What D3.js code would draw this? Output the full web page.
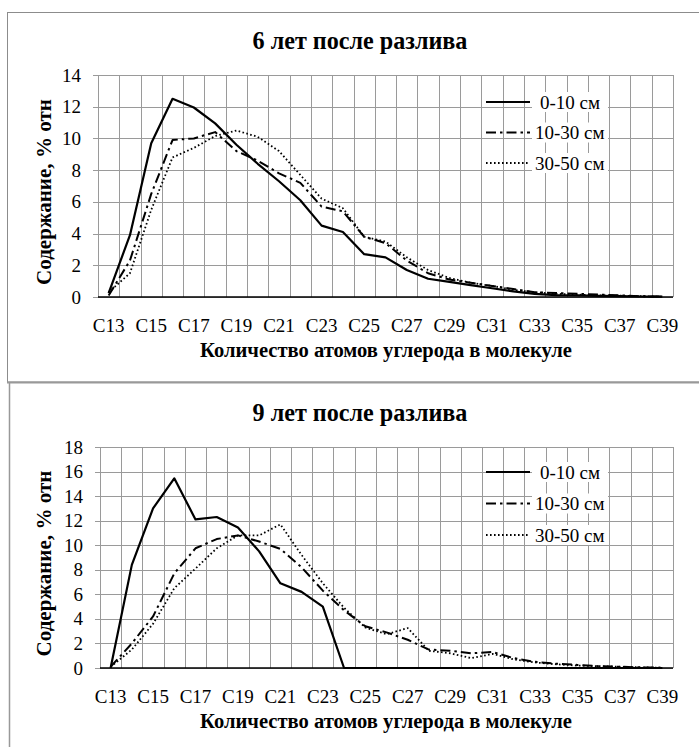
<!DOCTYPE html>
<html>
<head>
<meta charset="utf-8">
<script src="https://cdn.jsdelivr.net/npm/d3@7"></script>
<style>
  body { margin: 0; background: #fff; }
</style>
</head>
<body>
<svg id="chart" width="699" height="747"></svg>
<script>
// категории C13..C39
const categories = ["C13","C14","C15","C16","C17","C18","C19","C20","C21","C22","C23","C24","C25","C26","C27","C28","C29","C30","C31","C32","C33","C34","C35","C36","C37","C38","C39"];
const seriesNames = ["0-10 см", "10-30 см", "30-50 см"];

// 6 лет после разлива
const y6_0_10  = [0.25, 3.9, 9.7, 12.5, 11.95, 10.95, 9.6, 8.4, 7.3, 6.1, 4.5, 4.1, 2.7, 2.5, 1.7, 1.15, 0.95, 0.75, 0.55, 0.35, 0.2, 0.12, 0.1, 0.07, 0.05, 0.03, 0.02];
const y6_10_30 = [0.1, 2.3, 6.5, 9.9, 10.0, 10.4, 9.2, 8.6, 7.8, 7.2, 5.7, 5.4, 3.8, 3.4, 2.3, 1.5, 1.1, 0.9, 0.7, 0.5, 0.3, 0.25, 0.2, 0.15, 0.1, 0.05, 0.02];
const y6_30_50 = [0.3, 1.5, 5.5, 8.8, 9.4, 10.15, 10.5, 10.1, 9.2, 7.7, 6.2, 5.6, 3.8, 3.5, 2.5, 1.7, 1.2, 0.9, 0.7, 0.45, 0.3, 0.2, 0.15, 0.1, 0.08, 0.05, 0.02];

// 9 лет после разлива
const y9_0_10  = [0, 8.4, 13.0, 15.45, 12.1, 12.3, 11.45, 9.5, 6.9, 6.2, 5.0, 0, 0, 0, 0, 0, 0, 0, 0, 0, 0, 0, 0, 0, 0, 0, 0];
const y9_10_30 = [0.1, 2.0, 4.2, 7.7, 9.75, 10.5, 10.8, 10.3, 9.7, 8.2, 6.3, 4.7, 3.4, 2.9, 2.3, 1.5, 1.4, 1.2, 1.3, 0.8, 0.5, 0.35, 0.25, 0.15, 0.1, 0.05, 0.02];
const y9_30_50 = [0.1, 1.5, 3.6, 6.5, 8.1, 9.75, 10.8, 10.8, 11.7, 9.2, 6.9, 4.9, 3.3, 2.75, 3.25, 1.4, 1.2, 0.8, 1.15, 0.7, 0.45, 0.3, 0.2, 0.15, 0.1, 0.05, 0.02];

const yTicks6 = [0, 2, 4, 6, 8, 10, 12, 14];
const yTicks9 = [0, 2, 4, 6, 8, 10, 12, 14, 16, 18];

const titles = ["6 лет после разлива", "9 лет после разлива"];
const yTitle = "Содержание, % отн";
const xTitle = "Количество атомов углерода в молекуле";

const FONT = "Liberation Serif";

const svg = d3.select("#chart");

// рамки как в Excel
svg.append("rect").attr("x", 7.5).attr("y", 12.5).attr("width", 720).attr("height", 369.5)
  .attr("fill", "none").attr("stroke", "#8c8c8c").attr("stroke-width", 1);
svg.append("line").attr("x1", 7).attr("x2", 699).attr("y1", 382.5).attr("y2", 382.5)
  .attr("stroke", "#999").attr("stroke-width", 2);
svg.append("line").attr("x1", 9.5).attr("x2", 9.5).attr("y1", 383).attr("y2", 747)
  .attr("stroke", "#999").attr("stroke-width", 1.5);

const styles = [
  { dash: null, width: 2.2 },
  { dash: "10,4,2.5,4", width: 2 },
  { dash: "1.6,2.4", width: 1.8 }
];

// подгоняем размер шрифта под нужную ширину
function ajustar(sel, size, target) {
  sel.attr("font-size", size);
  const w = sel.node().getComputedTextLength();
  if (w > 0) sel.attr("font-size", (size * target / w).toFixed(2));
}

function graficar(cfg) {
  const g = svg.append("g");
  const x = d3.scaleBand().domain(categories).range([cfg.left, cfg.right]);
  const y = d3.scaleLinear().domain([0, d3.max(cfg.ticks)]).range([cfg.bottom, cfg.top]);
  const bw = x.bandwidth();

  // сетка
  g.selectAll(".hg").data(cfg.ticks).enter().append("line")
    .attr("x1", cfg.left - 5).attr("x2", cfg.right)
    .attr("y1", d => Math.round(y(d)) + 0.5).attr("y2", d => Math.round(y(d)) + 0.5)
    .attr("stroke", "#9a9a9a").attr("stroke-width", 1);
  const bounds = categories.map(c => x(c)).concat([cfg.right]);
  g.selectAll(".vg").data(bounds).enter().append("line")
    .attr("x1", d => Math.round(d) + 0.5).attr("x2", d => Math.round(d) + 0.5)
    .attr("y1", cfg.top).attr("y2", cfg.bottom)
    .attr("stroke", "#9a9a9a").attr("stroke-width", 1);

  // ось X
  g.append("line").attr("x1", cfg.left).attr("x2", cfg.right)
    .attr("y1", y(0)).attr("y2", y(0)).attr("stroke", "#000").attr("stroke-width", 1.5);

  // подписи Y
  g.selectAll(".yl").data(cfg.ticks).enter().append("text")
    .attr("font-family", FONT).attr("font-size", 19)
    .attr("x", cfg.left - 17).attr("y", d => y(d) + 6.5)
    .attr("text-anchor", "end").text(d => d);

  // подписи X
  g.selectAll(".xl").data(categories.filter((c, i) => i % 2 === 0)).enter().append("text")
    .attr("font-family", FONT).attr("font-size", 19)
    .attr("x", d => x(d) + bw / 2).attr("y", cfg.bottom + 35)
    .attr("text-anchor", "middle").text(d => d);

  // линии
  const line = d3.line().x((d, i) => x(categories[i]) + bw / 2).y(d => y(d));
  cfg.series.forEach((s, k) => {
    g.append("path").datum(s).attr("d", line)
      .attr("fill", "none").attr("stroke", "#000")
      .attr("stroke-width", styles[k].width)
      .attr("stroke-dasharray", styles[k].dash)
      .attr("stroke-linejoin", "round");
  });

  // заголовки
  const t = g.append("text").attr("font-family", FONT).attr("font-weight", "bold")
    .attr("x", 360).attr("y", cfg.top - 26).attr("text-anchor", "middle").text(cfg.title);
  ajustar(t, 20, 215);
  const tx = g.append("text").attr("font-family", FONT).attr("font-weight", "bold")
    .attr("x", 386).attr("y", cfg.bottom + 60).attr("text-anchor", "middle").text(xTitle);
  ajustar(tx, 17, 372);
  const ty = g.append("text").attr("font-family", FONT).attr("font-weight", "bold")
    .attr("transform", `translate(51,${(cfg.top + cfg.bottom) / 2 + 6}) rotate(-90)`)
    .attr("text-anchor", "middle").text(yTitle);
  ajustar(ty, 17, 186);

  // легенда
  const leg = g.selectAll(".leg").data(seriesNames).enter().append("g")
    .attr("transform", (d, i) => `translate(486,${cfg.legY + i * cfg.legStep})`);
  leg.append("line").attr("x1", 0).attr("x2", 44).attr("y1", 0).attr("y2", 0)
    .attr("stroke", "#000")
    .attr("stroke-width", (d, i) => styles[i].width)
    .attr("stroke-dasharray", (d, i) => styles[i].dash);
  leg.append("rect").attr("x", 46).attr("y", -10).attr("width", 76).attr("height", 20).attr("fill", "#fff");
  leg.append("text").attr("font-family", FONT).attr("font-size", 19)
    .attr("x", (d, i) => i === 0 ? 54 : 49).attr("y", 6.5).text(d => d);
}

graficar({ left: 98, right: 673, top: 75, bottom: 297, ticks: yTicks6,
  series: [y6_0_10, y6_10_30, y6_30_50], title: titles[0], legY: 102, legStep: 30.5 });
graficar({ left: 100, right: 673, top: 447, bottom: 668, ticks: yTicks9,
  series: [y9_0_10, y9_10_30, y9_30_50], title: titles[1], legY: 472, legStep: 31.5 });
</script>
</body>
</html>
